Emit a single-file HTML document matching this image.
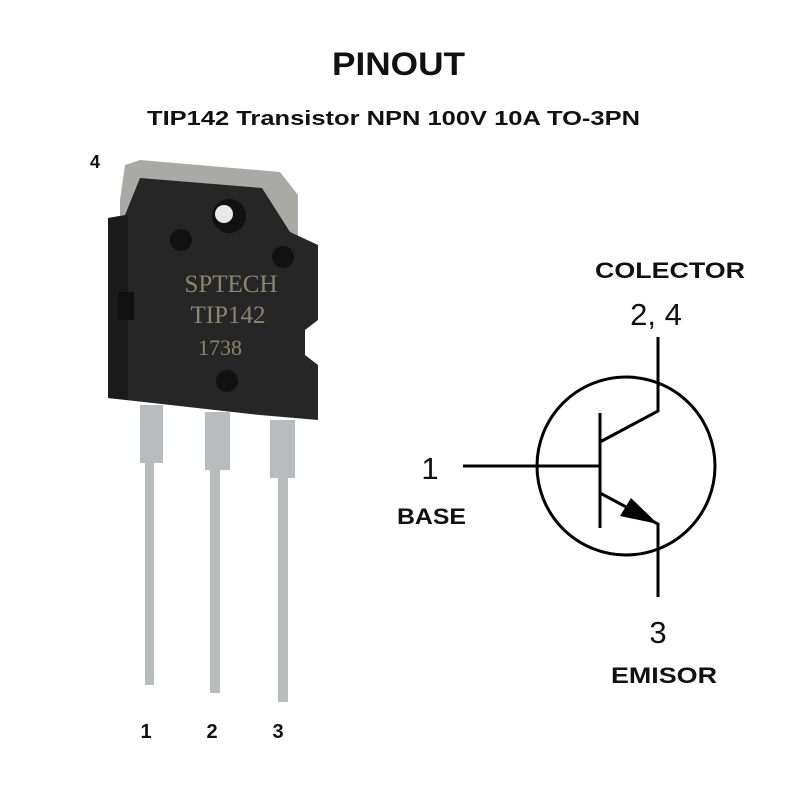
<!DOCTYPE html>
<html><head><meta charset="utf-8"><style>
html,body{margin:0;padding:0;background:#fff;}
body{width:800px;height:800px;position:relative;overflow:hidden;font-family:"Liberation Sans",sans-serif;}
</style></head><body>
<svg width="800" height="800" viewBox="0 0 800 800" xmlns="http://www.w3.org/2000/svg">
<rect width="800" height="800" fill="#fff"/>
<text x="332" y="75" textLength="133" lengthAdjust="spacingAndGlyphs" font-family="Liberation Sans" font-weight="bold" font-size="32" fill="#111">PINOUT</text>
<text x="147" y="125" textLength="493" lengthAdjust="spacingAndGlyphs" font-family="Liberation Sans" font-weight="bold" font-size="20" fill="#111">TIP142 Transistor NPN 100V 10A TO-3PN</text>
<text x="95" y="168" text-anchor="middle" font-family="Liberation Sans" font-weight="bold" font-size="18" fill="#111">4</text>

<g fill="#b9bcbc">
<rect x="140" y="405" width="23" height="58"/><rect x="145" y="460" width="9" height="225"/>
<rect x="205" y="412" width="25" height="58"/><rect x="210" y="465" width="10" height="228"/>
<rect x="270" y="420" width="25" height="58"/><rect x="278" y="472" width="10" height="230"/>
</g>
<path d="M120,200 L125,165 L140,160 L280,172 L298,195 L298,240 L120,240 Z" fill="#a9aaa6"/>
<path d="M108,218 L125,215 L140,178 L262,188 L290,232 L318,245 L318,320 L305,330 L305,355 L318,365 L318,420 L260,415 L108,398 Z" fill="#262626"/>
<path d="M108,218 L128,215 L128,400 L108,398 Z" fill="#1a1a1a"/>
<circle cx="229" cy="216" r="17" fill="#111"/>
<circle cx="224" cy="214" r="9" fill="#e8e8e8"/>
<circle cx="181" cy="240" r="11" fill="#111"/>
<circle cx="283" cy="257" r="11" fill="#111"/>
<circle cx="227" cy="381" r="11" fill="#111"/>
<rect x="118" y="292" width="16" height="28" fill="#111"/>
<g font-family="Liberation Serif" font-size="25" fill="#8a8670" text-anchor="middle">
<text x="231" y="292">SPTECH</text>
<text x="228" y="323">TIP142</text>
<text x="220" y="355" font-size="22">1738</text>
</g>
<g font-family="Liberation Sans" font-weight="bold" font-size="20" fill="#111" text-anchor="middle">
<text x="146" y="738">1</text><text x="212" y="738">2</text><text x="278" y="738">3</text>
</g>

<g stroke="#000" stroke-width="3" fill="none">
<circle cx="626" cy="466" r="89"/>
<line x1="463" y1="466" x2="600" y2="466"/>
<line x1="600" y1="413" x2="600" y2="528"/>
<polyline points="600,442 658,411 658,337"/>
<polyline points="600,493 658,524 658,597"/>
</g>
<polygon points="658,524 620,516 631,498" fill="#000"/>
<g font-family="Liberation Sans" font-size="31" fill="#111" text-anchor="middle">
<text x="656" y="325">2, 4</text>
<text x="430" y="479">1</text>
<text x="658" y="643">3</text>
</g>
<g font-family="Liberation Sans" font-weight="bold" font-size="22" fill="#111" lengthAdjust="spacingAndGlyphs">
<text x="595" y="278" textLength="150" lengthAdjust="spacingAndGlyphs">COLECTOR</text>
<text x="397" y="524" textLength="69" lengthAdjust="spacingAndGlyphs">BASE</text>
<text x="611" y="683" textLength="106" lengthAdjust="spacingAndGlyphs">EMISOR</text>
</g>
</svg>
</body></html>
